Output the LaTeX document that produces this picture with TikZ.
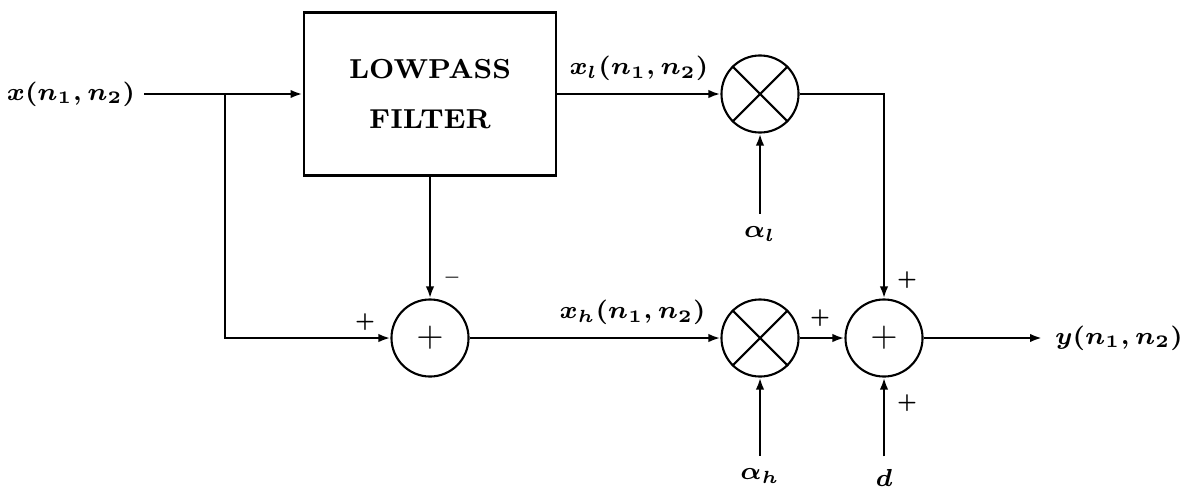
\documentclass[tikz,border=0pt]{standalone}
\usetikzlibrary{arrows.meta}
\begin{document}
\begin{tikzpicture}[x=0.01cm,y=-0.01cm,
    >={Latex[length=3.4pt,width=2.4pt]},
    line width=0.8pt,
    lbl/.style={font=\fontsize{7.3}{9}\selectfont\boldmath},
    sgn/.style={font=\fontsize{5}{6}\selectfont\bfseries},
    junc/.style={circle,draw,line width=0.6pt,minimum size=0.77cm,inner sep=0pt},
    blk/.style={draw,minimum width=2.52cm,minimum height=1.63cm,align=center,
      font=\fontsize{7.8}{14}\selectfont\bfseries}]
  \useasboundingbox (0,0) rectangle (1186,494);
  % blocks
  \node[blk] (lpf) at (430,94) {LOWPASS\\FILTER};
  \node[junc] (s1) at (430,338) {$+$};
  \node[junc] (m1) at (760,94) {};
  \node[junc] (m2) at (760,338) {};
  \node[junc] (s2) at (884,338) {$+$};
  \foreach \m in {m1,m2}
    \draw[line width=0.6pt] (\m.north east) -- (\m.south west)
      (\m.north west) -- (\m.south east);
  % signals
  \node[lbl,anchor=east,inner sep=1pt] (x) at (140,94) {$x(n_1,n_2)$};
  \node[lbl,anchor=west] (y) at (1042,338) {$y(n_1,n_2)$};
  \node[lbl] (al) at (760,234) {$\alpha_l$};
  \node[lbl] (ah) at (760,476) {$\alpha_h$};
  \node[lbl] (d) at (884,478) {$d$};
  \coordinate (br) at (225,94);
  % connections
  \draw[->] (x.east) ++(4,0) -- (lpf.west);
  \draw[->] (br) |- (s1.west);
  \draw[->] (lpf.south) -- (s1.north);
  \draw[->] (lpf.east) -- node[lbl,above] {$x_l(n_1,n_2)$} (m1.west);
  \draw[->] (s1.east) -- node[lbl,above,pos=0.65] {$x_h(n_1,n_2)$} (m2.west);
  \draw[->] (al) -- (m1.south);
  \draw[->] (ah) -- (m2.south);
  \draw[->] (m1.east) -| (s2.north);
  \draw[->] (m2.east) -- (s2.west);
  \draw[->] (d) -- (s2.south);
  \draw[->] (s2.east) -- (y.west);
  % signs
  \node[sgn] (p1) at (365,322) {+};
  \node[sgn] (mi) at (452,280) {--};
  \node[sgn] (p2) at (820,318) {+};
  \node[sgn] (p3) at (907,280) {+};
  \node[sgn] (p4) at (907,403) {+};
\end{tikzpicture}
\end{document}
